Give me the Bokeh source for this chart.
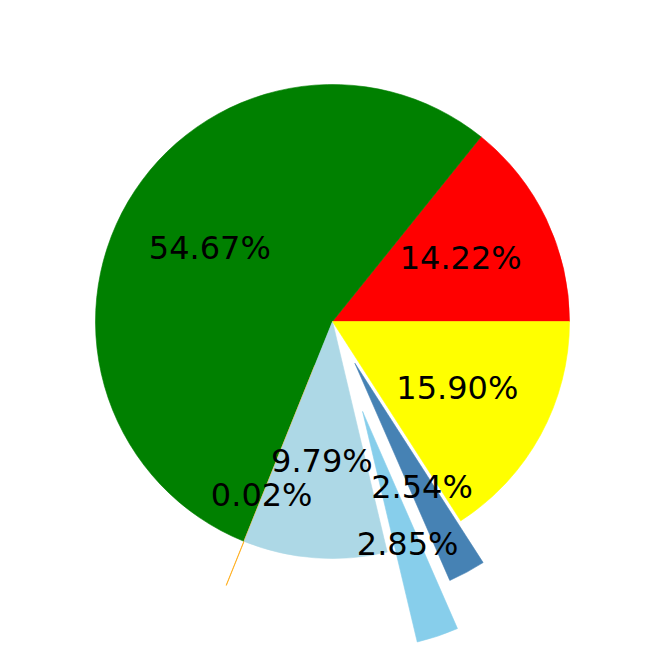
import numpy as np
from bokeh.plotting import figure
from bokeh.models import ColumnDataSource
from bokeh.core.properties import value
from bokeh.embed import file_html
from bokeh.resources import INLINE

# Data
labels = ["A", "B", "C", "D", "E", "F", "G"]
values = [14.22, 54.67, 0.02, 9.79, 2.85, 2.54, 15.90]
colors = ["#ff0000", "#008000", "#ffa500", "#add8e6", "#87ceeb", "#4682b4", "#ffff00"]
explode = [0.0, 0.0, 0.2, 0.0, 0.4, 0.2, 0.0]

vals = np.array(values, dtype=float)
frac = vals / vals.sum()
ends = np.cumsum(frac) * 2 * np.pi
starts = ends - frac * 2 * np.pi
mids = (starts + ends) / 2
ex = np.array(explode)
cx = ex * np.cos(mids)
cy = ex * np.sin(mids)
lx = cx + 0.6 * np.cos(mids)
ly = cy + 0.6 * np.sin(mids)
texts = ["%.2f%%" % v for v in values]

W, H = 648, 648
scale = 237.0
cxp, cyp = 332.0, 321.0

p = figure(width=W, height=H, output_backend="svg", toolbar_location=None,
           x_range=(-cxp / scale, (W - cxp) / scale),
           y_range=(-(H - cyp) / scale, cyp / scale),
           min_border=0)
p.axis.visible = False
p.grid.visible = False
p.outline_line_color = None
p.background_fill_color = "white"

src = ColumnDataSource(dict(x=cx, y=cy, start=starts, end=ends, color=colors))
p.wedge(x="x", y="y", radius=1.0, start_angle="start", end_angle="end",
        direction="anticlock", fill_color="color", line_color="color",
        line_width=0.6, source=src)

tsrc = ColumnDataSource(dict(x=lx, y=ly, t=texts))
p.text(x="x", y="y", text="t", source=tsrc, text_align="center",
       text_baseline="middle", text_font=value("DejaVu Sans"),
       text_font_size="32px", text_color="black", y_offset=-2)

open("out.html", "w").write(file_html(p, INLINE))
